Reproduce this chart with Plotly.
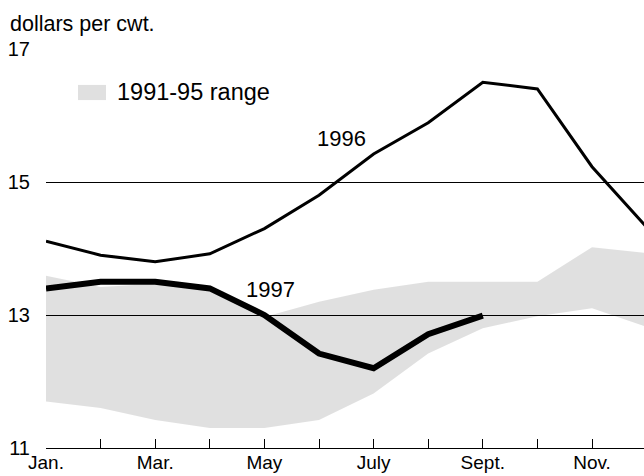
import plotly.graph_objects as go

months = list(range(1, 13))
month_labels = ["Jan.", "", "Mar.", "", "May", "", "July", "", "Sept.", "", "Nov.", ""]
y1996 = [14.11, 13.90, 13.80, 13.92, 14.30, 14.80, 15.42, 15.89, 16.50, 16.40, 15.23, 14.32]
y1997 = [13.40, 13.50, 13.50, 13.40, 13.00, 12.42, 12.20, 12.71, 12.99]
range_upper = [13.59, 13.42, 13.47, 13.42, 12.97, 13.20, 13.38, 13.50, 13.50, 13.50, 14.02, 13.93]
range_lower = [11.70, 11.60, 11.42, 11.30, 11.30, 11.42, 11.82, 12.42, 12.80, 12.98, 13.10, 12.82]
y_ticks = [11, 13, 15, 17]

FONT = "Liberation Sans, Arial, sans-serif"

fig = go.Figure()
fig.add_trace(go.Scatter(x=months, y=range_lower, mode="lines", line=dict(width=0),
                         hoverinfo="skip", showlegend=False))
fig.add_trace(go.Scatter(x=months, y=range_upper, mode="lines", line=dict(width=0),
                         fill="tonexty", fillcolor="rgba(0,0,0,0.12)",
                         name="1991-95 range", showlegend=False))
fig.add_trace(go.Scatter(x=months, y=y1996, mode="lines",
                         line=dict(color="black", width=3), name="1996", showlegend=False))
fig.add_trace(go.Scatter(x=months[:len(y1997)], y=y1997, mode="lines",
                         line=dict(color="black", width=6), name="1997", showlegend=False))

fig.add_annotation(x=6.42, y=15.65, text="1996", showarrow=False,
                   font=dict(size=22, color="black", family=FONT))
fig.add_annotation(x=5.12, y=13.39, text="1997", showarrow=False,
                   font=dict(size=22, color="black", family=FONT))

# legend
fig.add_shape(type="rect", xref="paper", yref="paper", x0=0.0535, x1=0.1003, y0=0.872, y1=0.910,
              fillcolor="#e0e0e0", line=dict(width=0))
fig.add_annotation(xref="paper", yref="paper", x=0.1154, y=0.891, xanchor="left", yanchor="middle",
                   text="1991-95 range", showarrow=False,
                   font=dict(size=23.5, color="black", family=FONT))
fig.add_annotation(xref="paper", yref="paper", x=-0.0635, y=1.0627, xanchor="left", yanchor="middle",
                   text="dollars per cwt.", showarrow=False,
                   font=dict(size=21.5, color="black", family=FONT))

fig.update_layout(
    width=644, height=476,
    margin=dict(l=46, r=0, t=49, b=28),
    paper_bgcolor="white", plot_bgcolor="white",
    font=dict(family=FONT, color="black", size=19),
    showlegend=False,
)
fig.update_xaxes(range=[1, 1 + 598 / 54.6], tickvals=months, ticktext=month_labels,
                 ticks="inside", ticklen=9, tickcolor="black", tickwidth=1,
                 showline=True, linecolor="black", linewidth=1, showgrid=False,
                 zeroline=False, ticklabelstandoff=-3, tickfont=dict(size=19, family=FONT))
fig.update_yaxes(range=[11, 17], tickvals=y_ticks, ticks="", showline=False,
                 showgrid=True, gridcolor="black", gridwidth=1, zeroline=False,
                 ticklabelstandoff=15, tickfont=dict(size=20, family=FONT))

fig.write_html("out.html", config={"displayModeBar": False},
               post_script="document.body.style.margin='0';document.body.style.overflow='hidden';")
